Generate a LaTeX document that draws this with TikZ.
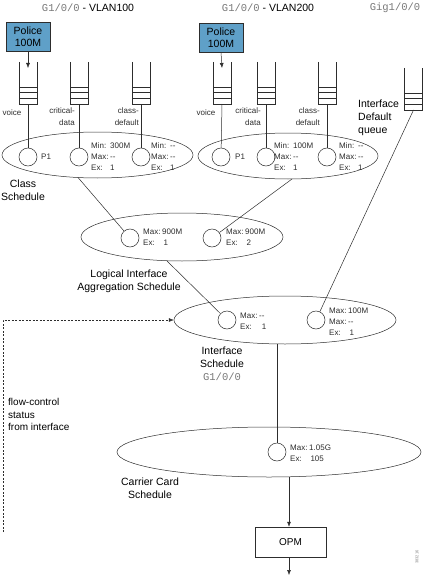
\documentclass[tikz,border=0pt]{standalone}
\usepackage{fontspec}
\setmainfont{Liberation Sans}
\newfontfamily\monof{Liberation Mono}
\usetikzlibrary{arrows.meta,shapes.geometric}
\definecolor{policeblue}{RGB}{95,160,200}
\definecolor{inkc}{RGB}{45,45,45}
\definecolor{monogray}{RGB}{120,120,120}
\newcommand\kv[2]{\makebox[19pt][l]{#1}#2}
\newcommand\dd{-{}-}
\newcommand\myqueue[3]{%
  \draw[ln] (#2-9,#3) -- (#2-9,#3+42) -- (#2+9,#3+42) -- (#2+9,#3);
  \draw[ln] (#2-9,#3+25) -- (#2+9,#3+25) (#2-9,#3+30) -- (#2+9,#3+30) (#2-9,#3+36) -- (#2+9,#3+36);
  \coordinate (#1) at (#2,#3+42);
  \coordinate (#1in) at (#2,#3+6);}
\begin{document}
\begin{tikzpicture}[x=1pt,y=-1pt,
  ln/.style={draw=inkc,line width=0.5pt},
  arr/.style={ln,-{Latex[length=5pt,width=4pt]}},
  ell/.style={ln,ellipse,inner sep=0pt},
  circ/.style={ln,circle,inner sep=0pt,minimum size=18pt},
  small/.style={inner sep=0pt,font=\fontsize{8}{11}\selectfont,text=inkc,align=left},
  lbl/.style={inner sep=0pt,font=\fontsize{10.5}{13}\selectfont,text=black},
  qlbl/.style={inner sep=0pt,font=\fontsize{8}{12}\selectfont,text=inkc},
  police/.style={ln,fill=policeblue,minimum width=44pt,minimum height=29pt,inner sep=0pt,align=center,font=\fontsize{10.5}{12.5}\selectfont}]
\useasboundingbox (0,0) rectangle (424,578);

% titles
\node[lbl] (t1) at (88,8) {{\monof\color{monogray}G1/0/0} - VLAN100};
\node[lbl] (t2) at (268,8) {{\monof\color{monogray}G1/0/0} - VLAN200};
\node[lbl] (t3) at (395,8) {\monof\color{monogray}Gig1/0/0};

% police boxes
\node[police] (pol1) at (28,36.5) {Police\\100M};
\node[police] (pol2) at (221,37.5) {Police\\100M};

% queues
\myqueue{q11}{28}{62}
\myqueue{q12}{79}{62}
\myqueue{q13}{141}{62}
\myqueue{q21}{222}{62}
\myqueue{q22}{266}{62}
\myqueue{q23}{327}{62}
\myqueue{qd}{413.5}{68}

\draw[arr] (pol1.south) -- (q11in);
\draw[arr] (pol2.south) -- (q21in);

% queue labels
\node[qlbl] (lv1) at (12,113) {voice};
\node[qlbl,anchor=north east,align=right] (lc1) at (75,108) {critical-\\data};
\node[qlbl,anchor=north east,align=right] (ld1) at (139,108) {class-\\default};
\node[qlbl] (lv2) at (206,113) {voice};
\node[qlbl,anchor=north east,align=right] (lc2) at (261,108) {critical-\\data};
\node[qlbl,anchor=north east,align=right] (ld2) at (320,108) {class-\\default};
\node[lbl,anchor=north west,align=left] (ldq) at (358,100) {Interface\\Default\\queue};

% class schedule ellipses
\node[ell,minimum width=191pt,minimum height=46pt] (e1) at (97.5,155) {};
\node[ell,minimum width=180pt,minimum height=46pt] (e2) at (288,156) {};

\node[circ] (c11) at (28,157) {};
\node[circ] (c12) at (79,157) {};
\node[circ] (c13) at (141,157) {};
\node[circ] (c21) at (221,157) {};
\node[circ] (c22) at (266,157) {};
\node[circ] (c23) at (327,157) {};

\node[small,anchor=west] (p11) at (41,157) {P1};
\node[small,anchor=west] (s12) at (91,157) {\kv{Min:}{300M}\\\kv{Max:}{\dd}\\\kv{Ex:}{1}};
\node[small,anchor=west] (s13) at (151,157) {\kv{Min:}{\dd}\\\kv{Max:}{\dd}\\\kv{Ex:}{1}};
\node[small,anchor=west] (p21) at (235,157) {P1};
\node[small,anchor=west] (s22) at (274,157) {\kv{Min:}{100M}\\\kv{Max:}{\dd}\\\kv{Ex:}{1}};
\node[small,anchor=west] (s23) at (339,157) {\kv{Min:}{\dd}\\\kv{Max:}{\dd}\\\kv{Ex:}{1}};

\draw[ln] (q11) -- (c11);
\draw[ln] (q12) -- (c12);
\draw[ln] (q13) -- (c13);
\draw[ln] (q21) -- (c21);
\draw[ln] (q22) -- (c22);
\draw[ln] (q23) -- (c23);

\node[lbl,align=center] (lcs) at (23,190) {Class\\Schedule};

% logical interface aggregation
\node[ell,minimum width=202pt,minimum height=48pt] (e3) at (182,237) {};
\node[circ] (c31) at (130,238) {};
\node[circ] (c32) at (212,238) {};
\node[small,anchor=west] (s31) at (143,237) {\kv{Max:}{900M}\\\kv{Ex:}{\,1}};
\node[small,anchor=west] (s32) at (226,237) {\kv{Max:}{900M}\\\kv{Ex:}{\,2}};
\coordinate (e1out) at (78,177.5);
\coordinate (e2out) at (292,179);
\draw[ln] (e1out) -- (c31);
\draw[ln] (e2out) -- (c32);
\node[lbl,align=center] (llia) at (129,281) {Logical Interface\\Aggregation Schedule};

% interface schedule
\node[ell,minimum width=222pt,minimum height=48pt] (e4) at (285,320) {};
\node[circ] (c41) at (227,320) {};
\node[circ] (c42) at (316,320) {};
\node[small,anchor=west] (s41) at (240,321.5) {\kv{Max:}{\dd}\\\kv{Ex:}{\,\,1}};
\node[small,anchor=west] (s42) at (329,322) {\kv{Max:}{100M}\\\kv{Max:}{\dd}\\\kv{Ex:}{\,1}};
\coordinate (e3out) at (167,261);
\draw[ln] (e3out) -- (c41);
\draw[ln] (qd) -- (c42);
\node[lbl,align=center] (lis) at (222,363.5) {Interface\\Schedule\\{\monof\color{monogray}G1/0/0}};

% flow control
\coordinate (fc0) at (3,532);
\draw[arr,dashed,dash pattern=on 2pt off 1.5pt] (fc0) |- (e4.west);
\node[lbl,anchor=north west,align=left,font=\fontsize{10}{12.7}\selectfont] (lfc) at (8,398) {flow-control\\status\\from interface};

% carrier card
\node[ell,minimum width=304pt,minimum height=50pt] (e5) at (269,452) {};
\node[circ] (c51) at (277,452) {};
\node[small,anchor=west] (s51) at (290,453.5) {\kv{Max:}{1.05G}\\\kv{Ex:}{\,105}};
\coordinate (e4out) at (277,344);
\draw[ln] (e4out) -- (c51);
\node[lbl,align=center] (lcc) at (150,488.5) {Carrier Card\\Schedule};

% OPM
\node[ln,minimum width=71pt,minimum height=30pt,inner sep=0pt,font=\fontsize{10}{12}\selectfont] (opm) at (290.5,542) {OPM};
\coordinate (e5out) at (289,477);
\draw[arr] (e5out) -- (opm.north -| e5out);
\coordinate (outend) at (289,575);
\draw[arr] (opm.south -| outend) -- (outend);

\node[rotate=90,inner sep=0pt,font=\fontsize{4}{5}\selectfont,text=gray] (fig) at (417,557) {383216};
\end{tikzpicture}
\end{document}
